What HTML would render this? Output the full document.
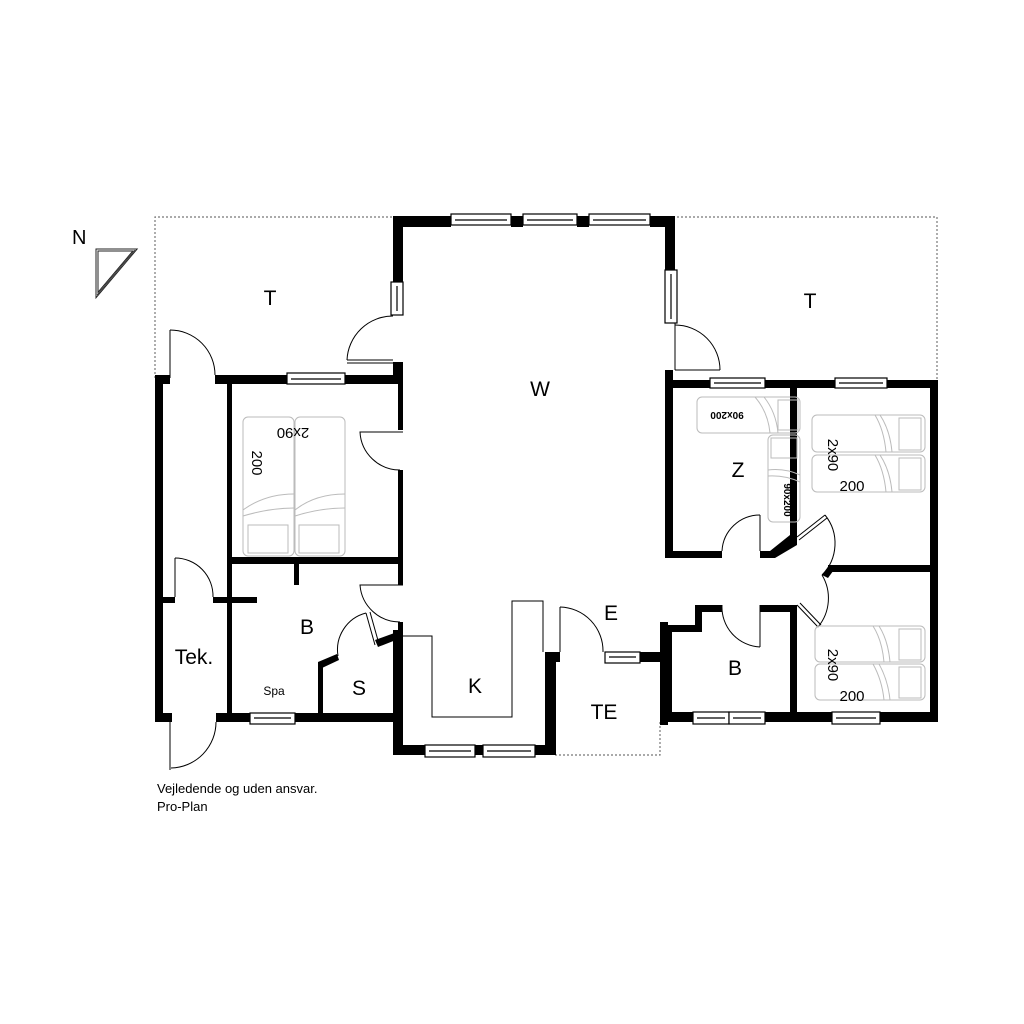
<!DOCTYPE html>
<html><head><meta charset="utf-8"><style>html,body{margin:0;padding:0;background:#fff}svg{display:block}</style></head>
<body>
<svg width="1024" height="1024" viewBox="0 0 1024 1024" xmlns="http://www.w3.org/2000/svg" font-family="Liberation Sans, Arial, sans-serif">
<rect width="1024" height="1024" fill="#fff"/>
<g fill="none" stroke="#777" stroke-width="1.2" stroke-dasharray="2,2">
<polyline points="155,378 155,217 395,217"/>
<polyline points="673,217 937,217 937,382"/>
<polyline points="555,755 660,755 660,722"/>
</g>
<text x="72" y="244" font-size="20">N</text>
<polygon points="97,250 135,250 97,295" fill="none" stroke="#222" stroke-width="3"/>
<polygon points="97,250 135,250 97,295" fill="none" stroke="#fff" stroke-width="1"/>
<line x1="97" y1="295" x2="135" y2="250" stroke="#222" stroke-width="0.8"/>
<g fill="#000">
<rect x="393" y="216" width="58" height="11"/>
<rect x="511" y="216" width="12" height="11"/>
<rect x="577" y="216" width="12" height="11"/>
<rect x="650" y="216" width="25" height="11"/>
<rect x="393" y="216" width="10" height="66"/>
<rect x="393" y="362" width="10" height="22"/>
<rect x="398" y="362" width="5" height="68"/>
<rect x="398" y="470" width="5" height="115"/>
<rect x="398" y="622" width="5" height="15"/>
<rect x="665" y="216" width="10" height="54"/>
<rect x="665" y="370" width="8" height="185"/>
<rect x="155" y="375" width="15" height="9"/>
<rect x="215" y="375" width="72" height="9"/>
<rect x="345" y="375" width="58" height="9"/>
<rect x="155" y="375" width="8" height="347"/>
<rect x="227" y="383" width="5" height="335"/>
<rect x="227" y="557" width="176" height="7"/>
<rect x="294" y="563" width="5" height="22"/>
<rect x="155" y="597" width="20" height="6"/>
<rect x="213" y="597" width="44" height="6"/>
<rect x="155" y="713" width="17" height="9"/>
<rect x="216" y="713" width="34" height="9"/>
<rect x="295" y="713" width="108" height="9"/>
<rect x="318" y="662" width="5" height="55"/>
<polygon points="318,662 337,654 339,660 322,668"/>
<polygon points="375,640 400,631 401,638 378,647"/>
<rect x="393" y="630" width="10" height="125"/>
<rect x="393" y="745" width="32" height="10"/>
<rect x="475" y="745" width="8" height="10"/>
<rect x="535" y="745" width="20" height="10"/>
<rect x="545" y="652" width="11" height="103"/>
<rect x="555" y="652" width="5" height="10"/>
<rect x="640" y="652" width="28" height="10"/>
<rect x="660" y="622" width="8" height="103"/>
<rect x="665" y="625" width="7" height="97"/>
<polygon points="665,625 695,625 695,605 722,605 722,612 702,612 702,632 665,632"/>
<rect x="760" y="605" width="37" height="7"/>
<rect x="790" y="605" width="7" height="117"/>
<rect x="665" y="712" width="28" height="10"/>
<rect x="765" y="712" width="67" height="10"/>
<rect x="880" y="712" width="57" height="10"/>
<rect x="930" y="380" width="8" height="342"/>
<rect x="665" y="380" width="45" height="8"/>
<rect x="765" y="380" width="70" height="8"/>
<rect x="887" y="380" width="51" height="8"/>
<rect x="790" y="380" width="7" height="158"/>
<rect x="665" y="551" width="57" height="7"/>
<polygon points="760,551 770,551 790,535 797,537 797,545 775,558 760,558"/>
<rect x="828" y="565" width="110" height="7"/>
<polygon points="822,575 830,565 836,567 828,578"/>
</g>
<g fill="#fff" stroke="#000" stroke-width="1.2">
<rect x="451" y="214" width="60" height="11"/><line x1="455" y1="220" x2="507" y2="220"/>
<rect x="523" y="214" width="54" height="11"/><line x1="527" y1="220" x2="573" y2="220"/>
<rect x="589" y="214" width="61" height="11"/><line x1="593" y1="220" x2="646" y2="220"/>
<rect x="391" y="282" width="12" height="33"/><line x1="397" y1="286" x2="397" y2="311"/>
<rect x="665" y="270" width="12" height="53"/><line x1="671" y1="274" x2="671" y2="319"/>
<rect x="287" y="373" width="58" height="11"/><line x1="291" y1="379" x2="341" y2="379"/>
<rect x="710" y="378" width="55" height="10"/><line x1="714" y1="383" x2="761" y2="383"/>
<rect x="835" y="378" width="52" height="10"/><line x1="839" y1="383" x2="883" y2="383"/>
<rect x="250" y="713" width="45" height="11"/><line x1="254" y1="718" x2="291" y2="718"/>
<rect x="425" y="745" width="50" height="12"/><line x1="429" y1="751" x2="471" y2="751"/>
<rect x="483" y="745" width="52" height="12"/><line x1="487" y1="751" x2="531" y2="751"/>
<rect x="605" y="652" width="35" height="11"/><line x1="609" y1="657" x2="636" y2="657"/>
<rect x="693" y="712" width="36" height="12"/><line x1="697" y1="718" x2="725" y2="718"/>
<rect x="729" y="712" width="36" height="12"/><line x1="733" y1="718" x2="761" y2="718"/>
<rect x="832" y="712" width="48" height="12"/><line x1="836" y1="718" x2="876" y2="718"/>
</g>
<g fill="none" stroke="#000" stroke-width="1">
<line x1="170" y1="330" x2="170" y2="378"/><path d="M170,330 A45,45 0 0 1 215,375"/>
<path d="M393,316 A46,46 0 0 0 347,360"/>
<line x1="347" y1="360" x2="393" y2="360"/><line x1="347" y1="363" x2="393" y2="363"/>
<line x1="675" y1="323" x2="675" y2="370"/><path d="M675,325 A45,45 0 0 1 720,370"/><line x1="675" y1="370" x2="720" y2="370"/>
<path d="M403,432 L360,432 A40,40 0 0 0 400,470"/>
<line x1="175" y1="558" x2="175" y2="597"/><path d="M175,558 A38,38 0 0 1 213,597"/>
<line x1="170" y1="722" x2="170" y2="770"/><path d="M216,722 A46,46 0 0 1 171,768"/>
<path d="M403,585 L360,585 A40,40 0 0 0 400,622"/>
<line x1="366" y1="613" x2="375" y2="645"/><line x1="370" y1="612" x2="379" y2="644"/><path d="M366,613 A38,38 0 0 0 338,656"/>
<line x1="560" y1="607" x2="560" y2="652"/><path d="M560,607 A44,44 0 0 1 603,652"/>
<line x1="760" y1="515" x2="760" y2="551"/><path d="M760,515 A38,38 0 0 0 722,551"/>
<line x1="797" y1="537" x2="825" y2="515"/><line x1="799" y1="540" x2="827" y2="518"/><path d="M825,515 A45,45 0 0 1 822,575"/>
<line x1="760" y1="605" x2="760" y2="647"/><path d="M760,647 A40,40 0 0 1 722,605"/>
<line x1="797" y1="605" x2="818" y2="627"/><line x1="800" y1="603" x2="821" y2="625"/><path d="M822,575 A45,45 0 0 1 818,627"/>
<polyline points="403,636 432,636 432,717 512,717 512,601 543,601 543,652"/>
</g>
<g fill="none" stroke="#bbb" stroke-width="1">
<rect x="243" y="417" width="51" height="139" rx="5"/><rect x="295" y="417" width="50" height="139" rx="5"/>
<rect x="248" y="525" width="40" height="28"/><rect x="299" y="525" width="40" height="28"/>
<path d="M243,510 Q265,494 294,494 M243,516 Q270,508 294,508 M295,510 Q315,494 345,494 M295,516 Q320,508 345,508"/>
<rect x="697" y="397" width="103" height="36" rx="5"/><rect x="778" y="400" width="20" height="30"/>
<path d="M755,397 Q768,412 770,433 M764,397 Q776,412 778,433"/>
<rect x="768" y="435" width="32" height="87" rx="5"/><rect x="771" y="438" width="26" height="20"/>
<path d="M768,470 Q785,468 800,475 M768,476 Q785,475 800,482"/>
<rect x="812" y="415" width="113" height="37" rx="5"/><rect x="812" y="455" width="113" height="37" rx="5"/>
<rect x="899" y="418" width="22" height="32"/><rect x="899" y="458" width="22" height="32"/>
<path d="M875,415 Q884,430 886,452 M880,415 Q890,430 892,452 M875,455 Q884,470 886,492 M880,455 Q890,470 892,492"/>
<rect x="815" y="626" width="110" height="36" rx="5"/><rect x="815" y="664" width="110" height="36" rx="5"/>
<rect x="899" y="629" width="22" height="31"/><rect x="899" y="667" width="22" height="31"/>
<path d="M873,626 Q882,640 884,662 M879,626 Q888,640 890,662 M873,664 Q882,680 884,700 M879,664 Q888,680 890,700"/>
</g>
<g fill="#000" font-size="21">
<text x="270" y="305" text-anchor="middle">T</text>
<text x="810" y="308" text-anchor="middle">T</text>
<text x="540" y="396" text-anchor="middle">W</text>
<text x="738" y="477" text-anchor="middle">Z</text>
<text x="307" y="634" text-anchor="middle">B</text>
<text x="194" y="664" text-anchor="middle">Tek.</text>
<text x="359" y="695" text-anchor="middle">S</text>
<text x="475" y="693" text-anchor="middle">K</text>
<text x="611" y="620" text-anchor="middle">E</text>
<text x="604" y="719" text-anchor="middle">TE</text>
<text x="735" y="675" text-anchor="middle">B</text>
</g>
<text x="274" y="695" font-size="12" text-anchor="middle">Spa</text>
<g font-size="15" fill="#000">
<text x="293" y="440" text-anchor="middle" transform="rotate(180 293 434)">2x90</text>
<text x="252" y="463" text-anchor="middle" transform="rotate(90 252 463)">200</text>
<text x="852" y="491" text-anchor="middle">200</text>
<text x="828" y="455" text-anchor="middle" transform="rotate(90 828 455)">2x90</text>
<text x="852" y="701" text-anchor="middle">200</text>
<text x="828" y="665" text-anchor="middle" transform="rotate(90 828 665)">2x90</text>
</g>
<g font-size="10" font-weight="bold" fill="#000">
<text x="727" y="418" text-anchor="middle" transform="rotate(180 727 415)">90x200</text>
<text x="784" y="500" text-anchor="middle" transform="rotate(90 784 500)">90x200</text>
</g>
<text x="157" y="793" font-size="13">Vejledende og uden ansvar.</text>
<text x="157" y="811" font-size="13">Pro-Plan</text>
</svg>
</body></html>
